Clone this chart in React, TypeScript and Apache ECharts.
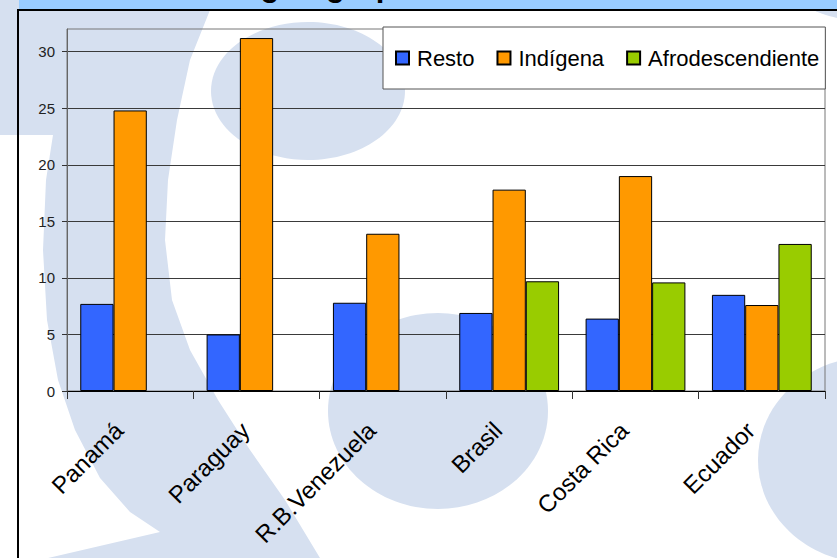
import React, { useEffect, useRef } from "react";
import * as echarts from "echarts";

const categories = ["Panamá", "Paraguay", "R.B.Venezuela", "Brasil", "Costa Rica", "Ecuador"];
const seriesNames = ["Resto", "Indígena", "Afrodescendiente"];
const resto = [7.7, 5.0, 7.8, 6.9, 6.4, 8.5];
const indigena = [24.8, 31.2, 13.9, 17.8, 19.0, 7.6];
const afro = [null, null, null, 9.7, 9.6, 13.0];
const yTicks = [0, 5, 10, 15, 20, 25, 30];
const titleText = "según grupo étnico";

export default function App() {
  const ref = useRef<HTMLDivElement>(null);
  useEffect(() => {
    const chart = echarts.init(ref.current!, null, { renderer: "svg" });
    const font = '"Liberation Sans", Arial, sans-serif';
    const pale = "#d6e0f0";
    const bar = (name: string, data: (number | null)[], color: string) => ({
      name,
      type: "bar",
      data,
      barGap: "0%",
      barCategoryGap: "21%",
      itemStyle: { color, borderColor: "#000", borderWidth: 1 },
      z: 3,
    });
    const band = [
      [0, 0], [220, 0], [210, 10], [190, 60], [177, 120], [168, 180], [165, 240],
      [172, 300], [190, 350], [218, 400], [250, 450], [285, 500], [320, 558],
      [330, 600], [18, 600], [18, 565], [160, 532], [130, 512], [100, 478],
      [75, 430], [58, 380], [47, 320], [43, 250], [46, 180], [53, 135], [0, 135],
    ];
    chart.setOption({
      animation: false,
      backgroundColor: "#ffffff",
      graphic: [
        { type: "polygon", z: -10, silent: true, shape: { points: band }, style: { fill: pale } },
        { type: "ellipse", z: -10, silent: true, shape: { cx: 308, cy: 91, rx: 97, ry: 69 }, style: { fill: pale } },
        { type: "ellipse", z: -10, silent: true, shape: { cx: 438, cy: 411, rx: 110, ry: 98 }, style: { fill: pale } },
        { type: "ellipse", z: -10, silent: true, shape: { cx: 870, cy: 460, rx: 112, ry: 103 }, style: { fill: pale } },
        { type: "ellipse", z: -10, silent: true, shape: { cx: 900, cy: 0, rx: 95, ry: 24 }, style: { fill: pale } },
        { type: "rect", z: -5, silent: true, shape: { x: 19, y: 0, width: 818, height: 9 }, style: { fill: "#99ccff" } },
        {
          type: "text", z: -4, silent: true, x: 226, y: 1,
          style: { text: titleText, font: 'bold 31px "Liberation Sans", Arial, sans-serif', fill: "#000", verticalAlign: "bottom", textAlign: "left" },
        },
        { type: "line", z: 10, silent: true, shape: { x1: 17, y1: 10, x2: 837, y2: 10 }, style: { stroke: "#000", lineWidth: 2 } },
        { type: "line", z: 10, silent: true, shape: { x1: 18, y1: 9, x2: 18, y2: 558 }, style: { stroke: "#000", lineWidth: 2 } },
      ],
      legend: {
        data: seriesNames,
        left: 383,
        top: 27,
        orient: "horizontal",
        icon: "rect",
        itemWidth: 13,
        itemHeight: 13,
        itemGap: 22,
        padding: [20, 6, 20, 12],
        backgroundColor: "#ffffff",
        borderColor: "#555",
        borderWidth: 1,
        textStyle: { fontSize: 22, fontFamily: font, color: "#000", padding: [0, 0, 0, 3] },
      },
      grid: {
        left: 67,
        right: 12,
        top: 29,
        bottom: 167,
        show: true,
        borderColor: "#777",
        borderWidth: 1,
        backgroundColor: "transparent",
      },
      xAxis: {
        type: "category",
        data: categories,
        axisLine: { show: true, lineStyle: { color: "#000", width: 1 } },
        axisTick: { show: true, length: 8, lineStyle: { color: "#333" } },
        axisLabel: {
          interval: 0,
          rotate: 45,
          fontSize: 24,
          fontFamily: font,
          color: "#000",
          margin: 24,
          padding: [0, 16, 0, 0],
        },
        splitLine: { show: false },
      },
      yAxis: {
        type: "value",
        min: 0,
        max: 32,
        interval: 5,
        axisLine: { show: true, lineStyle: { color: "#666" } },
        axisTick: { show: true, length: 5, lineStyle: { color: "#333" }, customValues: yTicks },
        axisLabel: { fontSize: 15, fontFamily: font, color: "#222", margin: 12, customValues: yTicks },
        splitLine: { show: true, lineStyle: { color: "#3a3a3a", width: 1 } },
      },
      series: [
        bar(seriesNames[0], resto, "#3366ff"),
        bar(seriesNames[1], indigena, "#ff9900"),
        bar(seriesNames[2], afro, "#99cc00"),
      ],
    });
    return () => chart.dispose();
  }, []);
  return <div ref={ref} style={{ position: "fixed", left: 0, top: 0, width: 837, height: 558 }} />;
}
